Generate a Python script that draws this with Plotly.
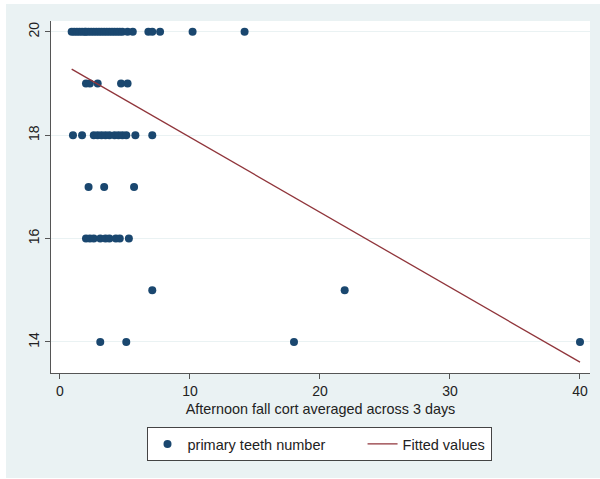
import plotly.graph_objects as go

# Data
row20_x = [0.9, 1.1, 1.3, 1.5, 1.7, 1.9, 2.0, 2.2, 2.4, 2.6, 2.8, 3.0, 3.2, 3.4, 3.6, 3.8,
           4.0, 4.2, 4.4, 4.6, 4.8, 5.2, 5.6, 6.8, 7.1, 7.7, 10.2, 14.2]
row19_x = [2.0, 2.3, 2.9, 4.7, 5.2]
row18_x = [1.0, 1.7, 2.6, 2.9, 3.2, 3.5, 3.8, 4.2, 4.5, 4.8, 5.1, 5.8, 7.1]
row17_x = [2.2, 3.4, 5.7]
row16_x = [2.0, 2.3, 2.6, 3.1, 3.5, 3.8, 4.3, 4.6, 5.3]
row15_x = [7.1, 21.9]
row14_x = [3.1, 5.1, 18.0, 40.0]

cort = row20_x + row19_x + row18_x + row17_x + row16_x + row15_x + row14_x
teeth = ([20] * len(row20_x) + [19] * len(row19_x) + [18] * len(row18_x) +
         [17] * len(row17_x) + [16] * len(row16_x) + [15] * len(row15_x) +
         [14] * len(row14_x))

fit_x = [0.9, 40.0]
fit_y = [19.28, 13.61]

x_ticks = [0, 10, 20, 30, 40]
y_ticks = [14, 16, 18, 20]

NAVY = "#1a476f"
MAROON = "#90353b"
BG = "#eaf2f3"
FONT = "Liberation Sans, Arial, sans-serif"

fig = go.Figure()
fig.add_trace(go.Scatter(x=cort, y=teeth, mode="markers",
                         name="primary teeth number" + "\u00a0" * 8,
                         marker=dict(color=NAVY, size=8, line=dict(width=0))))
fig.add_trace(go.Scatter(x=fit_x, y=fit_y, mode="lines", name="Fitted values",
                         line=dict(color=MAROON, width=1.3)))

L, R, T, B = 51, 10, 21, 106
W, H = 600, 479
pw, ph = W - L - R, H - T - B

def px2paper_x(px):
    return (px - L) / pw

def py2paper_y(py):
    return (H - B - py) / ph

fig.add_shape(type="rect", xref="paper", yref="paper", layer="below",
              x0=px2paper_x(6), x1=px2paper_x(600), y0=py2paper_y(478), y1=py2paper_y(4),
              fillcolor=BG, line=dict(width=0))
fig.add_shape(type="rect", xref="paper", yref="paper", layer="below",
              x0=0, x1=1, y0=0, y1=1, fillcolor="white", line=dict(width=0))

fig.update_layout(
    width=W, height=H,
    margin=dict(l=L, r=R, t=T, b=B),
    paper_bgcolor="white",
    plot_bgcolor="rgba(0,0,0,0)",
    font=dict(family=FONT, size=14, color="#222222"),
    showlegend=True,
    legend=dict(orientation="h", xanchor="center", yanchor="top",
                x=px2paper_x(319), y=py2paper_y(427),
                bgcolor="white", bordercolor="#444444", borderwidth=1,
                font=dict(size=14.5), itemwidth=30, tracegroupgap=0),
    xaxis=dict(range=[-0.69, 40.77], tickvals=x_ticks, showgrid=False, zeroline=False,
               showline=True, linecolor="#555555", linewidth=1,
               ticks="outside", ticklen=5, tickcolor="#555555",
               title=dict(text="Afternoon fall cort averaged across 3 days", standoff=6,
                          font=dict(size=14.4))),
    yaxis=dict(range=[13.4, 20.21], tickvals=y_ticks, showgrid=True, gridcolor=BG,
               gridwidth=1, zeroline=False, showline=True, linecolor="#555555",
               linewidth=1, ticks="outside", ticklen=5, tickcolor="#555555",
               tickangle=-90),
)

fig.write_html("out.html")
